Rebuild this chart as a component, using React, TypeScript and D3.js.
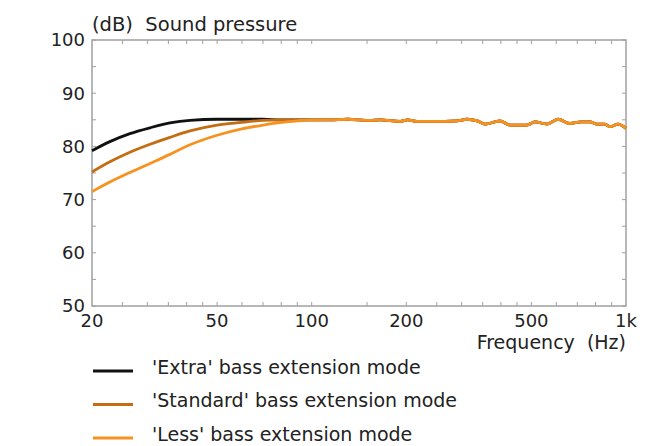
import { scaleLog, scaleLinear, line, curveMonotoneX } from "d3";

const width = 664;
const height = 446;
const margin = { left: 92, right: 38, top: 40, bottom: 140 };

// low-frequency roll-off, per mode
const lowFreqs = [20, 22.8, 26.4, 30.6, 35.4, 41, 50, 60, 70, 80, 90, 100];
const extraLow = [79.2, 80.9, 82.4, 83.5, 84.4, 84.9, 85.1, 85.1, 85.1, 85.0, 85.0, 85.0];
const standardLow = [75.2, 77.1, 78.9, 80.4, 81.7, 82.9, 84.0, 84.5, 84.9, 85.0, 85.0, 85.0];
const lessLow = [71.5, 73.3, 75.1, 76.8, 78.5, 80.3, 82.1, 83.3, 84.0, 84.5, 84.8, 85.0];

// shared response above 100 Hz
const highFreqs = [114, 130, 153, 165, 191, 202, 216, 243, 290, 312, 336, 356, 397, 428, 484, 513, 561, 608, 664, 720, 768, 809, 857, 889, 943, 1000];
const highLevels = [85.0, 85.1, 84.9, 85.0, 84.7, 85.0, 84.7, 84.7, 84.8, 85.1, 84.8, 84.2, 84.8, 84.0, 84.0, 84.6, 84.2, 85.1, 84.3, 84.6, 84.6, 84.2, 84.2, 83.7, 84.2, 83.4];

const seriesNames = ["'Extra' bass extension mode", "'Standard' bass extension mode", "'Less' bass extension mode"];
const seriesColors = ["#111111", "#c46c12", "#f7921e"];
const seriesLow = [extraLow, standardLow, lessLow];

const xTickLabels = [20, 50, 100, 200, 500, 1000];
const xMinorTicks = [25, 30, 35, 40, 45, 50, 60, 70, 80, 90, 100, 150, 200, 250, 300, 350, 400, 450, 500, 600, 700, 800, 900];
const yTicks = [50, 60, 70, 80, 90, 100];
const yMinorTicks = [55, 65, 75, 85, 95];

const font = "'DejaVu Sans', Verdana, sans-serif";
const axisColor = "#a0a0a0";
const textColor = "#222";

export default function App() {
  const x = scaleLog().domain([20, 1000]).range([margin.left, width - margin.right]);
  const y = scaleLinear().domain([50, 100]).range([height - margin.bottom, margin.top]);
  const x0 = x.range()[0];
  const x1 = x.range()[1];
  const y0 = y.range()[0];
  const y1 = y.range()[1];

  const path = line<[number, number]>()
    .x((d) => x(d[0]))
    .y((d) => y(d[1]))
    .curve(curveMonotoneX);

  const series = seriesLow.map((low) => [
    ...lowFreqs.map((f, i) => [f, low[i]] as [number, number]),
    ...highFreqs.map((f, i) => [f, highLevels[i]] as [number, number]),
  ]);

  const tickLen = 4;

  return (
    <svg
      width={width}
      height={height}
      style={{ position: "absolute", left: 0, top: 0, background: "#fff" }}
      fontFamily={font}
    >
      <text x={x0} y={31} fontSize={19.5} fill={textColor} style={{ whiteSpace: "pre" }}>
        (dB)  Sound pressure
      </text>

      {/* ticks */}
      {xMinorTicks.map((t) => (
        <g key={"xt" + t} stroke={axisColor} strokeWidth={1}>
          <line x1={x(t)} x2={x(t)} y1={y0} y2={y0 - tickLen} />
          <line x1={x(t)} x2={x(t)} y1={y1} y2={y1 + tickLen} />
        </g>
      ))}
      {[...yTicks, ...yMinorTicks].map((t) => (
        <g key={"yt" + t} stroke={axisColor} strokeWidth={1}>
          <line x1={x0} x2={x0 + tickLen} y1={y(t)} y2={y(t)} />
          <line x1={x1} x2={x1 - tickLen} y1={y(t)} y2={y(t)} />
        </g>
      ))}
      <rect x={x0} y={y1} width={x1 - x0} height={y0 - y1} fill="none" stroke={axisColor} strokeWidth={1.5} />

      {/* curves, less on top */}
      {series.map((s, i) => (
        <path key={i} d={path(s) ?? ""} fill="none" stroke={seriesColors[i]} strokeWidth={2.8} strokeLinejoin="round" />
      ))}

      {/* labels */}
      {yTicks.map((t) => (
        <text key={"yl" + t} x={x0 - 7} y={y(t)} dy="0.36em" textAnchor="end" fontSize={18} fill={textColor}>
          {t}
        </text>
      ))}
      {xTickLabels.map((t) => (
        <text key={"xl" + t} x={x(t)} y={327} textAnchor="middle" fontSize={18} fill={textColor}>
          {t === 1000 ? "1k" : t}
        </text>
      ))}
      <text x={x1} y={349} textAnchor="end" fontSize={19} fill={textColor} style={{ whiteSpace: "pre" }}>
        Frequency  (Hz)
      </text>

      {/* legend */}
      {seriesNames.map((name, i) => (
        <g key={name} transform={`translate(0, ${371 + i * 33.5})`}>
          <line x1={93} x2={133} y1={0} y2={0} stroke={seriesColors[i]} strokeWidth={2.8} />
          <text x={152} y={2.5} fontSize={19} fill={textColor}>
            {name}
          </text>
        </g>
      ))}
    </svg>
  );
}
